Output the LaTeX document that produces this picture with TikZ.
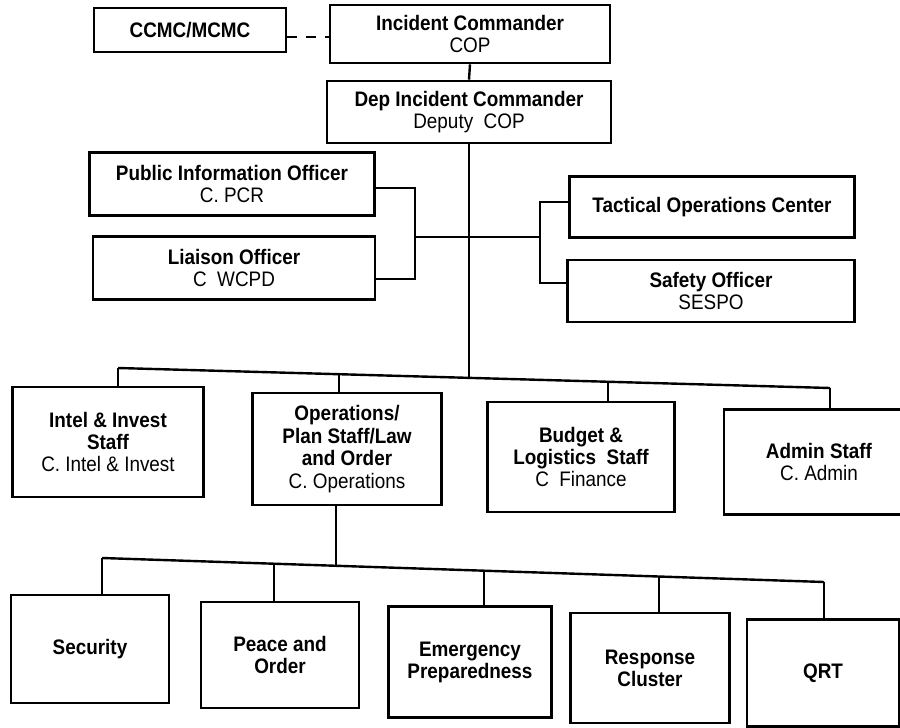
\documentclass[tikz,border=0pt]{standalone}
\usepackage{fontspec}
\setmainfont{Liberation Sans}[FakeStretch=0.9]
\usetikzlibrary{calc}
\begin{document}
\begin{tikzpicture}[x=1pt,y=-1pt,
  box/.style={draw=black, line width=2.6pt, align=center, inner sep=2pt,
    font=\fontsize{21}{22}\selectfont\bfseries},
  tallbox/.style={box, font=\fontsize{21}{22.5}\selectfont\bfseries},
  link/.style={draw=black, line width=2.4pt}]
\clip (0,0) rectangle (900,728);
\fill[white] (0,0) rectangle (900,728);

% command level
\node[box, minimum width=192pt, minimum height=44pt] (ccmc) at (190,30) {CCMC/MCMC};
\node[box, minimum width=280pt, minimum height=58pt] (ic) at (470,34) {Incident Commander\\\mdseries COP};
\node[box, minimum width=284pt, minimum height=62pt] (dep) at (469,112) {Dep Incident Commander\\\mdseries Deputy\ \ COP};

% command staff
\node[box, minimum width=285pt, minimum height=63pt] (pio) at (232,184) {Public Information Officer\\\mdseries C. PCR};
\node[box, minimum width=282pt, minimum height=63pt] (lia) at (234,268) {Liaison Officer\\\mdseries C\ \ WCPD};
\node[box, minimum width=285pt, minimum height=61pt] (toc) at (712,207) {Tactical Operations Center};
\node[box, minimum width=287pt, minimum height=62pt] (saf) at (711,291) {Safety Officer\\\mdseries SESPO};

% general staff
\node[box, minimum width=191pt, minimum height=110pt] (intel) at (108,442) {Intel \& Invest\\Staff\\\mdseries C. Intel \& Invest};
\node[tallbox, minimum width=189pt, minimum height=112pt] (ops) at (347,449) {Operations/\\Plan Staff/Law\\and Order\\\mdseries C. Operations};
\node[box, minimum width=187pt, minimum height=110pt] (bud) at (581,457) {Budget \&\\Logistics\ \ Staff\\\mdseries C\ \ Finance};
\node[box, minimum width=190pt, minimum height=105pt] (adm) at (819,462) {Admin Staff\\\mdseries C. Admin};

% operations units
\node[box, minimum width=158pt, minimum height=108pt] (sec) at (90,649) {Security};
\node[box, minimum width=158pt, minimum height=106pt] (peace) at (280,655) {Peace and\\Order};
\node[box, minimum width=163pt, minimum height=111pt] (emer) at (470,662) {Emergency\\Preparedness};
\node[box, minimum width=159pt, minimum height=110pt] (resp) at (650,668) {Response\\Cluster};
\node[box, minimum width=152pt, minimum height=107pt] (qrt) at (823,673) {QRT};

% junction points
\coordinate (lbus) at (415,237);
\coordinate (rbus) at (540,237);
\coordinate (m1) at (118,368);
\coordinate (m2) at (339,374);
\coordinate (m3) at (608,382);
\coordinate (m4) at (830,388);
\coordinate (mtop) at (469,377);
\coordinate (o0) at (336,565);
\coordinate (b1) at (102,558);
\coordinate (b2) at (274,564);
\coordinate (b3) at (484,571);
\coordinate (b4) at (659,577);
\coordinate (b5) at (824,582);

% connectors
\draw[link, dash pattern=on 10pt off 9pt] (ccmc.east |- 0,37) -- (ic.west |- 0,37);
\draw[link] (ic.south) -- (dep.north);
\draw[link] (dep.south) -- (mtop);
\draw[link] ([yshift=-4pt]pio.east) -| (lbus) |- ([yshift=-11pt]lia.east);
\draw[link] ([yshift=5pt]toc.west) -| (rbus) |- ([yshift=8pt]saf.west);
\draw[link] (lbus) -- (rbus);

\draw[link] (m1) -- (m4);
\draw[link] (m1) -- (m1 |- intel.north);
\draw[link] (m2) -- (m2 |- ops.north);
\draw[link] (m3) -- (m3 |- bud.north);
\draw[link] (m4) -- (m4 |- adm.north);

\draw[link] (o0 |- ops.south) -- (o0);
\draw[link] (b1) -- (b5);
\draw[link] (b1) -- (b1 |- sec.north);
\draw[link] (b2) -- (b2 |- peace.north);
\draw[link] (b3) -- (b3 |- emer.north);
\draw[link] (b4) -- (b4 |- resp.north);
\draw[link] (b5) -- (b5 |- qrt.north);
\end{tikzpicture}
\end{document}
